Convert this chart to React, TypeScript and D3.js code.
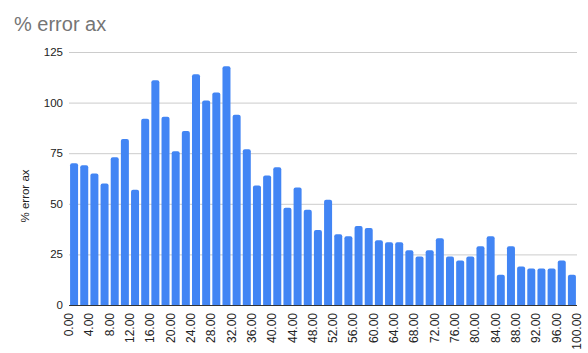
import React from "react";
import * as d3 from "d3";

const title = "% error ax";
const yTitle = "% error ax";
const binStarts = d3.range(0, 100, 2);
const values = [
  70, 69, 65, 60, 73, 82, 57, 92, 111, 93, 76, 86, 114, 101, 105, 118, 94, 77, 59, 64,
  68, 48, 58, 47, 37, 52, 35, 34, 39, 38, 32, 31, 31, 27, 24, 27, 33, 24, 22, 24,
  29, 34, 15, 29, 19, 18, 18, 18, 22, 15,
];
const xTicks = d3.range(0, 101, 4);
const yTicks = [0, 25, 50, 75, 100, 125];

const W = 588;
const H = 353;
const left = 69;
const right = 577;
const top = 52;
const bottom = 305;
const font = "Arial, 'Liberation Sans', sans-serif";

function barPath(x0: number, x1: number, y0: number, y1: number, r: number) {
  const rr = Math.min(r, (x1 - x0) / 2, y1 - y0);
  return `M${x0},${y1}V${y0 + rr}Q${x0},${y0} ${x0 + rr},${y0}H${x1 - rr}Q${x1},${y0} ${x1},${y0 + rr}V${y1}Z`;
}

export default function App() {
  const x = d3.scaleLinear().domain([0, 100]).range([left, right]);
  const y = d3.scaleLinear().domain([0, 125]).range([bottom, top]);
  const bw = 8;
  return (
    <svg width={W} height={H} style={{ position: "absolute", left: 0, top: 0, background: "#fff" }}>
      <rect x={0} y={0} width={W} height={H} fill="#fff" />
      <text x={14} y={31} fontFamily={font} fontSize={20} fill="#757575">{title}</text>
      {yTicks.map((t) => (
        <g key={t}>
          {t !== 0 && (
            <line x1={left} x2={right} y1={y(t) + 0.5} y2={y(t) + 0.5} stroke="#cccccc" strokeWidth={1} />
          )}
          <text x={63} y={y(t) + 4} textAnchor="end" fontFamily={font} fontSize={11.5} fill="#222">{t}</text>
        </g>
      ))}
      {values.map((v, i) => {
        const cx = x(binStarts[i] + 1);
        return (
          <path key={i} d={barPath(cx - bw / 2, cx + bw / 2, y(v), y(0), 2)} fill="#4285f4" />
        );
      })}
      <line x1={left} x2={right} y1={bottom + 0.5} y2={bottom + 0.5} stroke="#333" strokeWidth={1} />
      {xTicks.map((t) => (
        <text
          key={t}
          transform={`translate(${x(t) + 4},${313}) rotate(-90)`}
          textAnchor="end"
          fontFamily={font}
          fontSize={12}
          fill="#222"
        >
          {t.toFixed(2)}
        </text>
      ))}
      <text
        transform={`translate(29,196) rotate(-90)`}
        textAnchor="middle"
        fontFamily={font}
        fontSize={11.5}
        fill="#222"
      >
        {yTitle}
      </text>
    </svg>
  );
}
